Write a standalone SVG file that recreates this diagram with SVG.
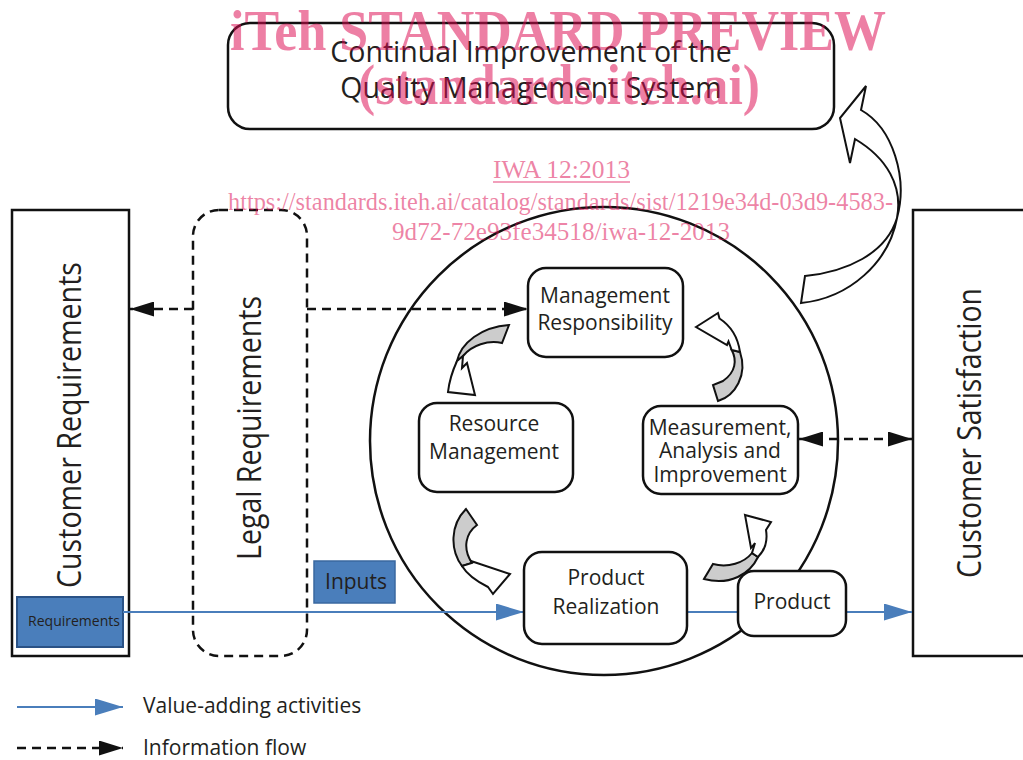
<svg xmlns="http://www.w3.org/2000/svg" width="1023" height="760" viewBox="0 0 1023 760">
<defs>
<style>
.box{fill:#fff;stroke:#111;stroke-width:2.5}
.t{font-family:"Open Sans","Noto Sans",sans-serif;fill:#231f20;text-anchor:middle}
.t21{font-size:21px}
.big{font-size:33px}
.dash{fill:none;stroke:#111;stroke-width:2.5;stroke-dasharray:9 6}
.blue{fill:none;stroke:#4a7ebb;stroke-width:2.2}
.grey{fill:#cccccc;stroke:#111;stroke-width:2;stroke-linejoin:miter}
.white{fill:#fff;stroke:#111;stroke-width:2;stroke-linejoin:miter}
.wm{font-family:"Liberation Serif","Times New Roman",serif;fill:#dc0a50;fill-opacity:0.52}
</style>
<marker id="hb" markerUnits="userSpaceOnUse" markerWidth="28" markerHeight="17" refX="28" refY="8.5" orient="auto-start-reverse">
<path d="M0,0 L28,8.5 L0,17 Z" fill="#4a7ebb"/>
</marker>
<marker id="hk" markerUnits="userSpaceOnUse" markerWidth="24" markerHeight="15" refX="24" refY="7.5" orient="auto-start-reverse">
<path d="M0,0 L24,7.5 L0,15 Z" fill="#111"/>
</marker>
</defs>
<rect width="1023" height="760" fill="#fff"/>

<g id="qms-circle">
<circle cx="604" cy="441" r="234" fill="none" stroke="#111" stroke-width="2.5"/>
</g>

<g id="continual-improvement">
<rect class="box" x="228" y="23" width="606" height="106" rx="22"/>
<text class="t" x="531" y="62" style="font-size:28.5px">Continual Improvement of the</text>
<text class="t" x="531" y="98" style="font-size:28.5px">Quality Management System</text>
</g>

<g id="customer-requirements">
<rect class="box" x="12" y="210" width="117" height="446"/>
<text class="t big" transform="translate(81,425) rotate(-90)" textLength="326" lengthAdjust="spacingAndGlyphs">Customer Requirements</text>
</g>

<g id="requirements">
<rect x="17" y="597" width="106" height="50" fill="#4a7ebb" stroke="#2a5286" stroke-width="2"/>
<text class="t" x="74" y="626" style="font-size:14px">Requirements</text>
</g>

<g id="legal-requirements">
<rect class="dash" x="193" y="210" width="114" height="446" rx="26"/>
<text class="t big" transform="translate(261,428) rotate(-90)" textLength="264" lengthAdjust="spacingAndGlyphs">Legal Requirements</text>
</g>

<g id="customer-satisfaction">
<rect class="box" x="913" y="210" width="120" height="446"/>
<text class="t big" transform="translate(981,433) rotate(-90)" textLength="290" lengthAdjust="spacingAndGlyphs">Customer Satisfaction</text>
</g>

<g id="connectors">
<line class="dash" x1="193" y1="309" x2="130" y2="309" marker-end="url(#hk)"/>
<line class="dash" x1="307" y1="309" x2="528" y2="309" marker-end="url(#hk)"/>
<line class="dash" x1="799" y1="439" x2="912" y2="439" marker-start="url(#hk)" marker-end="url(#hk)"/>
<line class="blue" x1="123" y1="612" x2="524" y2="612" marker-end="url(#hb)"/>
<line class="blue" x1="687" y1="612" x2="738" y2="612"/>
<line class="blue" x1="846" y1="612" x2="912" y2="612" marker-end="url(#hb)"/>
<path class="white" d="M866,86 L861,110 C893,128 908,178 897,218 C886,254 846,272 805,276 L801,303 C850,298 889,262 897,218 C903,186 887,158 855,139 L850,163 L840,118 Z"/>
<path class="grey" d="M509,325 L502,343 C488,340 472,345 463,356 L457,361 C461,343 481,327 509,325 Z"/>
<path class="white" d="M457,361 C452,372 449,383 448,392 L475,395 L467,363 L462,368 L463,356 Z"/>
<path class="grey" d="M731.7,350 C737,360 736,372 723,381 L713,385 L718,401 C735,396 748,375 740,352 Z"/>
<path class="white" d="M696,327 L718,313 L719.5,318.5 C731,326 738,338 740,352 L731.7,350 L728.5,341.5 L727,345 Z"/>
<path class="grey" d="M466,509 L477,525 C466,533 462,548 472,563 L462,566 C450,550 450,525 466,509 Z"/>
<path class="white" d="M462,566 L472,563 L471,561 L510,574 L493,594 L488,587 C478,582 468,576 462,566 Z"/>
<path class="grey" d="M713,564 C728,568 744,563 752,553 L758,557 C750,574 730,586 704,579 Z"/>
<path class="white" d="M745,515 L771,522 L766,530 C768,542 764,551 758,557 L752,553 L755,543 L751,548 Z"/>
</g>

<g id="management-responsibility">
<rect class="box" x="528" y="268" width="155" height="89" rx="18"/>
<text class="t t21" x="605" y="303">Management</text>
<text class="t t21" x="605" y="330">Responsibility</text>
</g>

<g id="resource-management">
<rect class="box" x="419" y="403" width="154" height="89" rx="18"/>
<text class="t t21" x="494" y="431">Resource</text>
<text class="t t21" x="494" y="459">Management</text>
</g>

<g id="measurement">
<rect class="box" x="643" y="406" width="155" height="88" rx="18"/>
<text class="t t21" x="720" y="435">Measurement,</text>
<text class="t t21" x="720" y="458">Analysis and</text>
<text class="t t21" x="720" y="482">Improvement</text>
</g>

<g id="product-realization">
<rect class="box" x="524" y="552" width="163" height="92" rx="18"/>
<text class="t t21" x="606" y="585">Product</text>
<text class="t t21" x="606" y="614">Realization</text>
</g>

<g id="product">
<rect class="box" x="738" y="571" width="108" height="65" rx="16"/>
<text class="t t21" x="792" y="609">Product</text>
</g>

<g id="inputs">
<rect x="314" y="561" width="81" height="42" fill="#4a7ebb" stroke="#3a68a0" stroke-width="1.5"/>
<text class="t t21" x="356" y="589">Inputs</text>
</g>

<g id="legend">
<line class="blue" x1="17" y1="707" x2="123" y2="707" marker-end="url(#hb)"/>
<text class="t t21" x="143" y="713" style="text-anchor:start">Value-adding activities</text>
<line class="dash" x1="17" y1="748" x2="123" y2="748" marker-end="url(#hk)"/>
<text class="t t21" x="143" y="755" style="text-anchor:start">Information flow</text>
</g>

<g id="watermark">
<text class="wm" x="230" y="50" style="font-size:57px;font-weight:bold" textLength="656" lengthAdjust="spacingAndGlyphs">iTeh STANDARD PREVIEW</text>
<text class="wm" x="358" y="104" style="font-size:57px;font-weight:bold" textLength="402" lengthAdjust="spacingAndGlyphs">(standards.iteh.ai)</text>
<text class="wm" x="493" y="178" style="font-size:26px" textLength="137" lengthAdjust="spacingAndGlyphs">IWA 12:2013</text>
<line x1="493" y1="182" x2="630" y2="182" stroke="#dc0a50" stroke-opacity="0.52" stroke-width="1.5"/>
<text class="wm" x="228" y="210" style="font-size:26px" textLength="665" lengthAdjust="spacingAndGlyphs">https://standards.iteh.ai/catalog/standards/sist/1219e34d-03d9-4583-</text>
<text class="wm" x="392" y="240" style="font-size:26px" textLength="338" lengthAdjust="spacingAndGlyphs">9d72-72e93fe34518/iwa-12-2013</text>
</g>
</svg>
